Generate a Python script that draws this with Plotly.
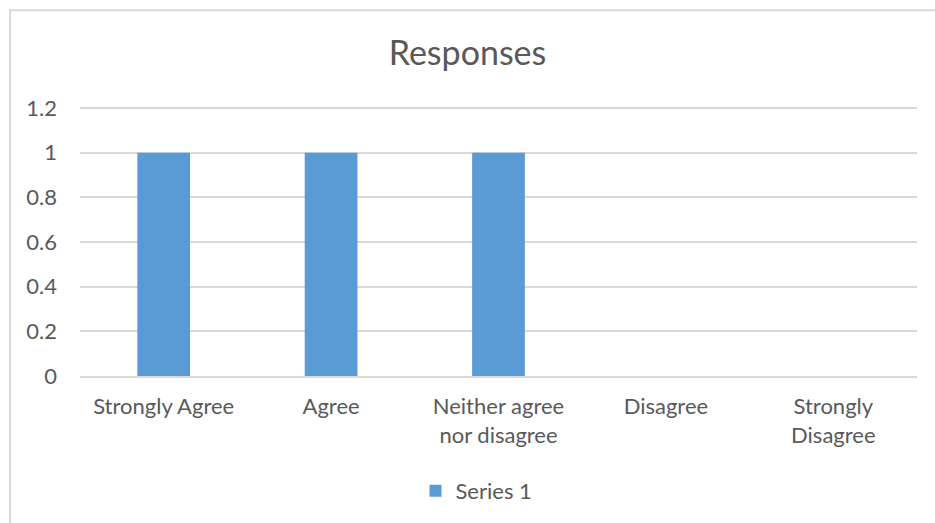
import plotly.graph_objects as go

categories = ["Strongly Agree", "Agree", "Neither agree<br>nor disagree", "Disagree", "Strongly<br>Disagree"]
values = [1, 1, 1, 0, 0]
series_name = "Series 1"
y_ticks = [0, 0.2, 0.4, 0.6, 0.8, 1, 1.2]
y_tick_labels = ["0", "0.2", "0.4", "0.6", "0.8", "1", "1.2"]

W, H = 935, 523
L, R, T, B = 80, 18, 106, 146
pw, ph = W - L - R, H - T - B
y_top = 1.2 * ph / 269

font_family = "Lato, 'Open Sans', sans-serif"
txt = "#595959"

fig = go.Figure()
fig.add_trace(go.Bar(
    x=categories, y=values, name=series_name,
    marker=dict(color="#5b9bd5", line=dict(width=0)),
    width=0.315,
))

def px2x(px):
    return (px - L) / pw

def py2y(py):
    return (H - B - py) / ph

fig.update_layout(
    width=W, height=H,
    margin=dict(l=L, r=R, t=T, b=B),
    paper_bgcolor="white", plot_bgcolor="white",
    font=dict(family=font_family, color=txt, size=22),
    title=dict(text="Responses", x=0.5, xanchor="center", y=1 - 53 / H, yanchor="middle",
               font=dict(size=34, color=txt, family=font_family)),
    showlegend=True,
    legend=dict(orientation="h", x=0.5 - 22 / pw, xanchor="center", y=py2y(491), yanchor="middle",
                font=dict(size=22, color=txt), itemwidth=30),
    xaxis=dict(showgrid=False, showline=True, linecolor="#d9d9d9", linewidth=1.5,
               ticks="", ticklabelstandoff=10, tickfont=dict(size=22, color=txt), fixedrange=True),
    yaxis=dict(range=[0, y_top], tickvals=y_ticks, ticktext=y_tick_labels,
               showgrid=True, gridcolor="#d9d9d9", gridwidth=1.5, zeroline=False,
               showline=False, ticks="", ticklabelstandoff=22,
               tickfont=dict(size=22, color=txt)),
    shapes=[dict(type="rect", xref="paper", yref="paper",
                 x0=px2x(10), y0=py2y(560), x1=px2x(1000), y1=py2y(10),
                 line=dict(color="#d9d9d9", width=2), layer="below")],
)

fig.write_html("out.html")
